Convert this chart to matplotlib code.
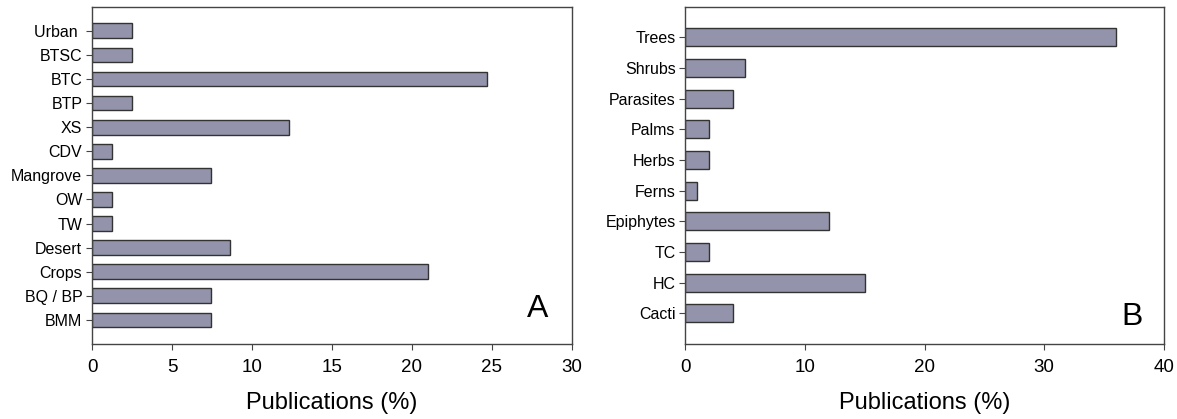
import matplotlib.pyplot as plt
import numpy as np

plt.rcParams['font.family'] = ['Liberation Sans', 'DejaVu Sans']

# panel A: habitats (bottom to top)
hab_labels = ['BMM', 'BQ / BP', 'Crops', 'Desert', 'TW', 'OW', 'Mangrove',
              'CDV', 'XS', 'BTP', 'BTC', 'BTSC', 'Urban ']
hab_pct = [7.41, 7.41, 20.99, 8.64, 1.23, 1.23, 7.41,
           1.23, 12.35, 2.47, 24.69, 2.47, 2.47]

# panel B: life forms (bottom to top)
form_labels = ['Cacti', 'HC', 'TC', 'Epiphytes', 'Ferns', 'Herbs', 'Palms',
               'Parasites', 'Shrubs', 'Trees']
form_pct = [4, 15, 2, 12, 1, 2, 2, 4, 5, 36]

bar_col = '#9393ab'
edge_col = '#333333'

fig = plt.figure(figsize=(11.77, 4.19), dpi=100)
axA = fig.add_axes([0.0782, 0.179, 0.4075, 0.805])
axB = fig.add_axes([0.5822, 0.179, 0.4067, 0.805])


def draw(ax, labels, vals, xmax, step, hgt, letter, lx, ly):
    y = np.arange(len(labels))
    ax.barh(y, vals, height=hgt, color=bar_col, edgecolor=edge_col, linewidth=1.0)
    ax.set_yticks(y)
    ax.set_yticklabels(labels, fontsize=11.5)
    ax.set_ylim(-1, len(labels))
    ax.set_xlim(0, xmax)
    ax.set_xticks(np.arange(0, xmax + 0.1, step))
    ax.tick_params(axis='x', labelsize=13.5, length=4, color='#444444', pad=7)
    ax.tick_params(axis='y', length=4, color='#444444', pad=3)
    for s in ax.spines.values():
        s.set_color('#444444')
        s.set_linewidth(1.0)
    ax.set_xlabel('Publications (%)', fontsize=17, labelpad=11)
    ax.text(lx, ly, letter, transform=ax.transAxes, fontsize=23,
            ha='center', va='center')


draw(axA, hab_labels, hab_pct, 30, 5, 0.61, 'A', 0.929, 0.104)
draw(axB, form_labels, form_pct, 40, 10, 0.58, 'B', 0.9325, 0.081)

fig.savefig('out.png', dpi=100)
